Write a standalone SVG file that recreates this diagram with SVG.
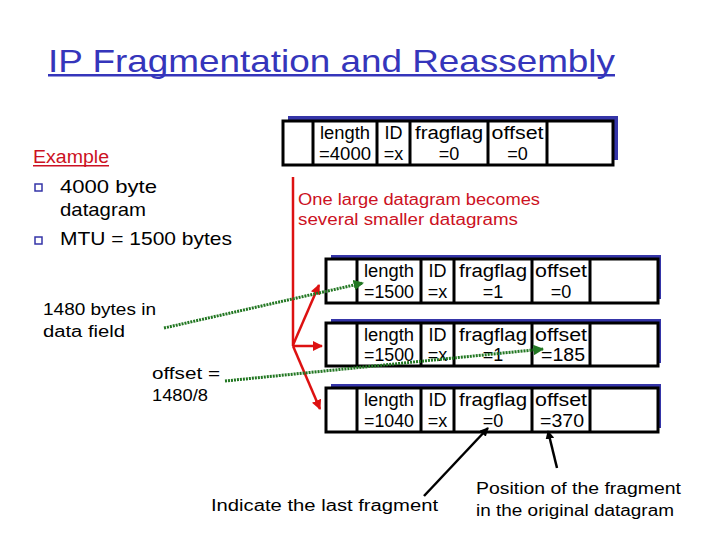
<svg xmlns="http://www.w3.org/2000/svg" width="720" height="540" viewBox="0 0 720 540">
<defs>
<style>
text{font-family:"Liberation Sans",Arial,sans-serif;}
.title{font-size:32px;fill:#3535bb;}
.body{font-size:19px;fill:#000;}
.small{font-size:16px;fill:#000;}
.red{font-size:16px;fill:#cc1122;}
.cell{font-size:18px;fill:#000;text-anchor:middle;}
.shadow{fill:#3535a8;}
.box{fill:#fff;stroke:#000;stroke-width:3;}
.div{stroke:#000;stroke-width:3;}
.redl{stroke:#dd1111;stroke-width:2.5;fill:none;}
.greenl{stroke:#227722;stroke-width:3;stroke-dasharray:2 1;fill:none;}
.blackl{stroke:#000;stroke-width:2.5;fill:none;}
</style>
<marker id="ar" viewBox="0 0 10 10" refX="9" refY="5" markerWidth="4" markerHeight="4" orient="auto" markerUnits="strokeWidth"><path d="M0,0 L10,5 L0,10 z" fill="#dd1111"/></marker>
<marker id="ag" viewBox="0 0 10 10" refX="9" refY="5" markerWidth="3.5" markerHeight="3.5" orient="auto" markerUnits="strokeWidth"><path d="M0,0 L10,5 L0,10 z" fill="#227722"/></marker>
<marker id="ab" viewBox="0 0 10 10" refX="9" refY="5" markerWidth="3.5" markerHeight="3.5" orient="auto" markerUnits="strokeWidth"><path d="M0,0 L10,5 L0,10 z" fill="#000"/></marker>
</defs>
<rect width="720" height="540" fill="#fff"/>

<g id="title">
<text class="title" x="48" y="72" textLength="567" lengthAdjust="spacingAndGlyphs">IP Fragmentation and Reassembly</text>
<rect x="48" y="74" width="567" height="2.5" fill="#3535bb"/>
</g>

<g id="example">
<text x="33" y="163" style="font-size:18px;fill:#cc1122" textLength="76" lengthAdjust="spacingAndGlyphs">Example</text>
<rect x="33" y="165" width="76" height="1.5" fill="#cc1122"/>
<rect x="35" y="184" width="7" height="7" fill="none" stroke="#3535a8" stroke-width="1.5"/>
<text class="body" x="60" y="193" textLength="97" lengthAdjust="spacingAndGlyphs">4000 byte</text>
<text class="body" x="60" y="216" textLength="86" lengthAdjust="spacingAndGlyphs">datagram</text>
<rect x="35" y="237" width="7" height="7" fill="none" stroke="#3535a8" stroke-width="1.5"/>
<text class="body" x="60" y="245" textLength="172" lengthAdjust="spacingAndGlyphs">MTU = 1500 bytes</text>
</g>

<g id="note-data">
<text class="small" x="43" y="315" textLength="113" lengthAdjust="spacingAndGlyphs">1480 bytes in</text>
<text class="small" x="43" y="337" textLength="82" lengthAdjust="spacingAndGlyphs">data field</text>
</g>
<g id="note-offset">
<text class="small" x="152" y="379" textLength="68" lengthAdjust="spacingAndGlyphs">offset =</text>
<text class="small" x="152" y="401" textLength="56" lengthAdjust="spacingAndGlyphs">1480/8</text>
</g>
<g id="note-red">
<text class="red" x="298" y="205" textLength="242" lengthAdjust="spacingAndGlyphs">One large datagram becomes</text>
<text class="red" x="298" y="225" textLength="220" lengthAdjust="spacingAndGlyphs">several smaller datagrams</text>
</g>
<g id="note-last">
<text class="small" x="211" y="511" textLength="227" lengthAdjust="spacingAndGlyphs">Indicate the last fragment</text>
</g>
<g id="note-position">
<text class="small" x="476" y="494" textLength="205" lengthAdjust="spacingAndGlyphs">Position of the fragment</text>
<text class="small" x="476" y="516" textLength="198" lengthAdjust="spacingAndGlyphs">in the original datagram</text>
</g>

<g id="orig-box">
<rect class="shadow" x="288" y="116" width="330" height="44"/>
<rect class="box" x="283" y="121" width="330" height="44"/>
<path class="div" d="M313,121V165M377,121V165M410,121V165M488,121V165M547,121V165"/>
<text class="cell" x="345" y="139" textLength="50" lengthAdjust="spacingAndGlyphs">length</text>
<text class="cell" x="345" y="160" textLength="52" lengthAdjust="spacingAndGlyphs">=4000</text>
<text class="cell" x="393.5" y="139">ID</text>
<text class="cell" x="393.5" y="160">=x</text>
<text class="cell" x="449" y="139" textLength="68" lengthAdjust="spacingAndGlyphs">fragflag</text>
<text class="cell" x="449" y="160">=0</text>
<text class="cell" x="517.5" y="139" textLength="52" lengthAdjust="spacingAndGlyphs">offset</text>
<text class="cell" x="517.5" y="160">=0</text>
</g>

<g id="frag1">
<rect class="shadow" x="331" y="255" width="330" height="44"/>
<rect class="box" x="326" y="259" width="332" height="44"/>
<path class="div" d="M357,259V303M421,259V303M454,259V303M532,259V303M590,259V303"/>
<text class="cell" x="389" y="277" textLength="50" lengthAdjust="spacingAndGlyphs">length</text>
<text class="cell" x="389" y="298" textLength="50" lengthAdjust="spacingAndGlyphs">=1500</text>
<text class="cell" x="437.5" y="277">ID</text>
<text class="cell" x="437.5" y="298">=x</text>
<text class="cell" x="493" y="277" textLength="68" lengthAdjust="spacingAndGlyphs">fragflag</text>
<text class="cell" x="493" y="298">=1</text>
<text class="cell" x="561" y="277" textLength="52" lengthAdjust="spacingAndGlyphs">offset</text>
<text class="cell" x="561" y="298">=0</text>
</g>

<g id="frag2">
<rect class="shadow" x="331" y="319" width="330" height="44"/>
<rect class="box" x="326" y="323" width="332" height="43"/>
<path class="div" d="M357,323V366M421,323V366M454,323V366M532,323V366M590,323V366"/>
<text class="cell" x="389" y="341" textLength="50" lengthAdjust="spacingAndGlyphs">length</text>
<text class="cell" x="389" y="361" textLength="50" lengthAdjust="spacingAndGlyphs">=1500</text>
<text class="cell" x="437.5" y="341">ID</text>
<text class="cell" x="437.5" y="361">=x</text>
<text class="cell" x="493" y="341" textLength="68" lengthAdjust="spacingAndGlyphs">fragflag</text>
<text class="cell" x="493" y="361">=1</text>
<text class="cell" x="561" y="341" textLength="52" lengthAdjust="spacingAndGlyphs">offset</text>
<text class="cell" x="563" y="361" textLength="44" lengthAdjust="spacingAndGlyphs">=185</text>
</g>

<g id="frag3">
<rect class="shadow" x="331" y="384" width="330" height="44"/>
<rect class="box" x="326" y="388" width="332" height="44"/>
<path class="div" d="M357,388V432M421,388V432M454,388V432M532,388V432M590,388V432"/>
<text class="cell" x="389" y="406" textLength="50" lengthAdjust="spacingAndGlyphs">length</text>
<text class="cell" x="389" y="427" textLength="50" lengthAdjust="spacingAndGlyphs">=1040</text>
<text class="cell" x="437.5" y="406">ID</text>
<text class="cell" x="437.5" y="427">=x</text>
<text class="cell" x="493" y="406" textLength="68" lengthAdjust="spacingAndGlyphs">fragflag</text>
<text class="cell" x="493" y="427">=0</text>
<text class="cell" x="561" y="406" textLength="52" lengthAdjust="spacingAndGlyphs">offset</text>
<text class="cell" x="562" y="427" textLength="44" lengthAdjust="spacingAndGlyphs">=370</text>
</g>

<g id="connectors">
<path class="redl" d="M293,177V346"/>
<path class="redl" d="M293,345L319,285" marker-end="url(#ar)"/>
<path class="redl" d="M293,346H322" marker-end="url(#ar)"/>
<path class="redl" d="M293,346L320,409" marker-end="url(#ar)"/>
<path class="greenl" d="M164,328L363,283" marker-end="url(#ag)"/>
<path class="greenl" d="M225,381L543,349" marker-end="url(#ag)"/>
<path class="blackl" d="M424,496L488,428" marker-end="url(#ab)"/>
<path class="blackl" d="M557,468L548,431" marker-end="url(#ab)"/>
</g>
</svg>
